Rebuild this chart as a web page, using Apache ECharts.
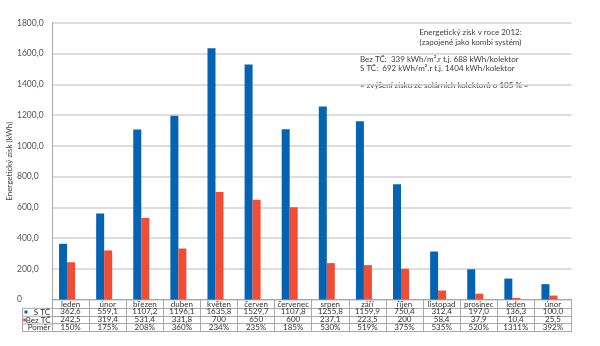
<!DOCTYPE html>
<html>
<head>
<meta charset="utf-8">
<script src="https://cdn.jsdelivr.net/npm/echarts@6/dist/echarts.min.js"></script>
<style>
html, body { margin: 0; padding: 0; background: #fff; }
#chart { width: 600px; height: 346px; }
</style>
</head>
<body>
<div id="chart"></div>
<script>
// Monthly solar gain, with and without heat pump (kWh)
const months = ['leden', 'únor', 'březen', 'duben', 'květen', 'červen', 'červenec', 'srpen', 'září', 'říjen', 'listopad', 'prosinec', 'leden', 'únor'];
const withHeatPump = [362.6, 559.1, 1107.2, 1196.1, 1635.8, 1529.7, 1107.8, 1255.8, 1159.9, 750.4, 312.4, 197.0, 136.3, 100.0];
const withoutHeatPump = [242.5, 319.4, 531.4, 331.8, 700, 650, 600, 237.1, 223.5, 200, 58.4, 37.9, 10.4, 25.5];
const rowNames = ['S TČ', 'Bez TČ', 'Poměr'];
const yMin = 0, yMax = 1800, yStep = 200;
const noteLines = [
  'Energetický zisk v roce 2012:',
  '(zapojené jako kombi systém)',
  'Bez TČ:  339 kWh/m².r t.j. 688 kWh/kolektor',
  'S TČ:  692 kWh/m².r t.j. 1404 kWh/kolektor',
  '= zvýšení zisku ze solárních kolektorů o 105 % ='
];

const FONT = 'Lato, "Open Sans", sans-serif';
const FS = 8;
const BLUE = '#0563b4';
const RED = '#f04c36';
const LINE = '#a8a8a8';
const TXT = '#333';

const fixed1 = v => v.toFixed(1).replace('.', ',');
const plain = v => String(v).replace('.', ',');
const withLabels = withHeatPump.map(fixed1);
const withoutLabels = withoutHeatPump.map(plain);
const ratioLabels = withHeatPump.map((v, i) => Math.round(v / withoutHeatPump[i] * 100) + '%');

const chart = echarts.init(document.getElementById('chart'));

// data-table row: a category axis parked under the plot
function tableRow(data, offset, showLabel) {
  return {
    type: 'category', gridIndex: 1, position: 'bottom', offset: offset,
    data: data,
    axisLine: { show: true, lineStyle: { color: LINE, width: 1 } },
    axisTick: { show: false },
    axisLabel: { show: showLabel, interval: 0, margin: 0, fontSize: FS, color: TXT, fontFamily: FONT },
    splitLine: { show: false }
  };
}

function note(text, x, y, align) {
  return { type: 'text', x: x, y: y, style: { text: text, fill: '#404040', fontSize: FS, fontFamily: FONT, textAlign: align, textVerticalAlign: 'middle' } };
}

function headerText(text, x, y) {
  return { type: 'text', x: x, y: y, style: { text: text, fill: TXT, fontSize: FS, fontFamily: FONT, textAlign: 'right', textVerticalAlign: 'middle' } };
}

function rule(x1, y1, x2, y2) {
  return { type: 'line', shape: { x1: x1, y1: y1, x2: x2, y2: y2 }, style: { stroke: LINE, lineWidth: 1 } };
}

chart.setOption({
  animation: false,
  textStyle: { fontFamily: FONT },
  grid: [
    { left: 48.5, right: 32, top: 23, bottom: 46.5, containLabel: false, outerBoundsMode: 'none' },
    { left: 52, right: 28.5, top: 23, bottom: 46.5, containLabel: false, outerBoundsMode: 'none' }
  ],
  xAxis: [
    { type: 'category', gridIndex: 0, data: months, show: false },
    {
      type: 'category', gridIndex: 1, position: 'bottom', data: months,
      axisLine: { show: true, lineStyle: { color: LINE, width: 1 } },
      axisTick: { show: true, interval: 0, length: 31.5, lineStyle: { color: LINE, width: 1 } },
      axisLabel: { interval: 0, margin: 0.5, fontSize: FS, color: TXT, fontFamily: FONT },
      splitLine: { show: false }
    },
    tableRow(withLabels, 8.3, true),
    tableRow(withoutLabels, 16.3, true),
    tableRow(ratioLabels, 24, true),
    tableRow(months, 31.5, false)
  ],
  yAxis: [
    {
      type: 'value', gridIndex: 1, min: yMin, max: yMax, interval: yStep,
      name: 'Energetický zisk (kWh)', nameLocation: 'middle', nameGap: 39, nameMoveOverlap: false,
      nameTextStyle: { fontSize: FS, color: '#444', fontFamily: FONT },
      axisLine: { show: true, lineStyle: { color: LINE, width: 1 } },
      axisTick: { show: false },
      axisLabel: {
        align: 'left', margin: 35, fontSize: 8.5, color: '#555', fontFamily: FONT,
        formatter: v => v === 0 ? '0' : fixed1(v)
      },
      splitLine: { show: true, lineStyle: { color: '#d2d2d2', width: 1.5 } }
    },
    { type: 'value', gridIndex: 0, min: yMin, max: yMax, interval: yStep, show: false, splitLine: { show: false } }
  ],
  series: [
    {
      name: rowNames[0], type: 'bar', xAxisIndex: 0, yAxisIndex: 1,
      data: withHeatPump, barWidth: 8, barGap: '0%',
      itemStyle: { color: BLUE }
    },
    {
      name: rowNames[1], type: 'bar', xAxisIndex: 0, yAxisIndex: 1,
      data: withoutHeatPump, barWidth: 8, barGap: '0%',
      itemStyle: { color: RED }
    }
  ],
  graphic: [
    // header cells of the data table
    {
      type: 'group', z: 10,
      children: [
        rule(22.5, 308.3, 22.5, 331.5),
        rule(22.5, 308.3, 52, 308.3),
        rule(22.5, 316.3, 52, 316.3),
        rule(22.5, 324, 52, 324),
        rule(22.5, 331.5, 52, 331.5),
        { type: 'rect', shape: { x: 24.5, y: 310.5, width: 3, height: 3 }, style: { fill: BLUE } },
        { type: 'rect', shape: { x: 23.2, y: 318.5, width: 3, height: 3 }, style: { fill: RED } },
        headerText(rowNames[0], 50, 312.3),
        headerText(rowNames[1], 50.5, 320.2),
        headerText(rowNames[2], 50.5, 327.8)
      ]
    },
    // annotation box in the upper right
    {
      type: 'group', z: 10,
      children: [
        { type: 'rect', shape: { x: 337, y: 26, width: 236, height: 74 }, style: { fill: '#fff' } },
        note(noteLines[0], 470.5, 32, 'center'),
        note(noteLines[1], 470.5, 42, 'center'),
        note(noteLines[2], 360, 59, 'left'),
        note(noteLines[3], 360, 68.5, 'left'),
        note(noteLines[4], 360, 85, 'left')
      ]
    }
  ]
});
</script>
</body>
</html>
